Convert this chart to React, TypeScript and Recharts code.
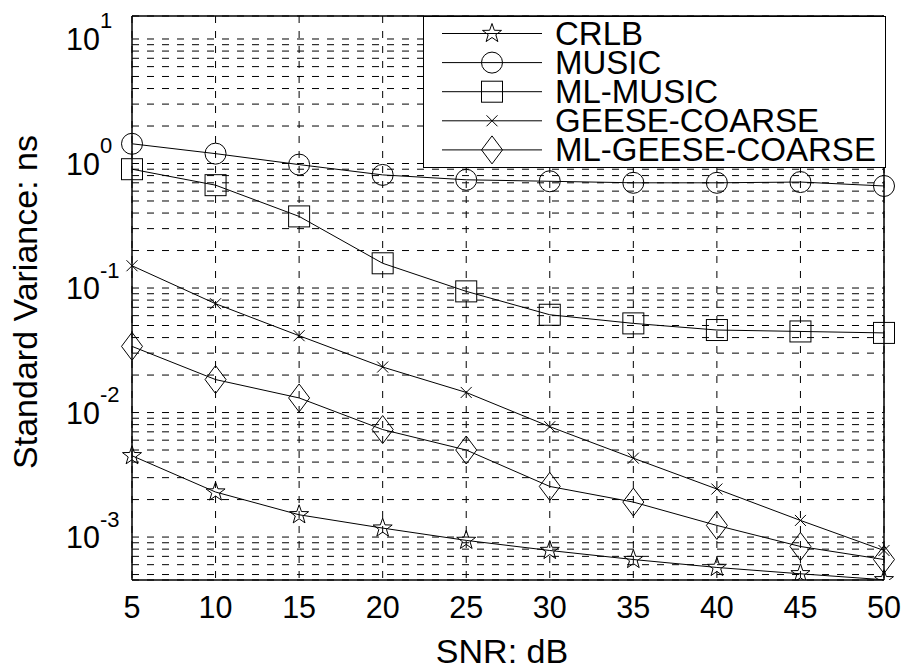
import { LineChart, Line, XAxis, YAxis, CartesianGrid } from "recharts"

// SNR in dB
const snr = [5, 10, 15, 20, 25, 30, 35, 40, 45, 50]

// standard variance (ns)
const crlb = [0.0045, 0.0023, 0.00151, 0.00118, 0.00094, 0.00078, 0.00066, 0.00057, 0.000507, 0.000454]
const music = [1.44, 1.2, 0.98, 0.81, 0.74, 0.72, 0.7, 0.7, 0.71, 0.66]
const mlMusic = [0.9, 0.67, 0.376, 0.158, 0.094, 0.061, 0.052, 0.046, 0.0448, 0.0436]
const geeseCoarse = [0.151, 0.0748, 0.0414, 0.0232, 0.0145, 0.0077, 0.0043, 0.00243, 0.00136, 0.00078]
const mlGeeseCoarse = [0.034, 0.0184, 0.0131, 0.0073, 0.005, 0.00255, 0.00191, 0.00124, 0.00084, 0.00066]

const xTicks = [5, 10, 15, 20, 25, 30, 35, 40, 45, 50]
const majorTicks = [0.001, 0.01, 0.1, 1, 10]
const minorSteps = [2, 3, 4, 5, 6, 7, 8, 9]
const yDomain = [4.52e-4, 15.3]

const series = [
  { key: "crlb", name: "CRLB", marker: "star", values: crlb },
  { key: "music", name: "MUSIC", marker: "circle", values: music },
  { key: "mlMusic", name: "ML-MUSIC", marker: "square", values: mlMusic },
  { key: "geese", name: "GEESE-COARSE", marker: "x", values: geeseCoarse },
  { key: "mlGeese", name: "ML-GEESE-COARSE", marker: "diamond", values: mlGeeseCoarse },
]

const data = snr.map((x, i) => {
  const row: Record<string, number> = { snr: x }
  series.forEach((s) => (row[s.key] = s.values[i]))
  return row
})

// every grid line of the log axis: 5e-4 .. 9e-4, then each decade
const yTicks: number[] = [5e-4, 6e-4, 7e-4, 8e-4, 9e-4]
majorTicks.forEach((m, i) => {
  yTicks.push(m)
  if (i < majorTicks.length - 1) minorSteps.forEach((k) => yTicks.push(Number((m * k).toPrecision(3))))
})

const FONT = "'Liberation Sans', Arial, sans-serif"

function Marker({ kind, cx, cy }: { kind: string; cx: number; cy: number }) {
  const common = { fill: "none", stroke: "#000", strokeWidth: 1 }
  if (kind === "circle") return <circle cx={cx} cy={cy} r={10.5} {...common} />
  if (kind === "square") return <rect x={cx - 10.5} y={cy - 10.5} width={21} height={21} {...common} />
  if (kind === "diamond")
    return <polygon points={`${cx},${cy - 14} ${cx + 10.5},${cy} ${cx},${cy + 14} ${cx - 10.5},${cy}`} {...common} />
  if (kind === "x")
    return (
      <g {...common}>
        <line x1={cx - 5.5} y1={cy - 5.5} x2={cx + 5.5} y2={cy + 5.5} />
        <line x1={cx - 5.5} y1={cy + 5.5} x2={cx + 5.5} y2={cy - 5.5} />
      </g>
    )
  // pentagram
  const pts: string[] = []
  for (let i = 0; i < 10; i++) {
    const r = i % 2 === 0 ? 10 : 4
    const a = -Math.PI / 2 + (i * Math.PI) / 5
    pts.push(`${cx + r * Math.cos(a)},${cy + r * Math.sin(a)}`)
  }
  return <polygon points={pts.join(" ")} {...common} />
}

const YTick = (props: any) => {
  const { x, y, payload } = props
  const v = payload.value
  if (!majorTicks.includes(v)) return <g />
  const e = Math.round(Math.log10(v))
  return (
    <g style={{ fontFamily: FONT }}>
      <text x={x - 32} y={y + 11} textAnchor="end" fontSize={30.5} fill="#000">
        10
      </text>
      <text x={x - 32} y={y - 10.5} textAnchor="start" fontSize={22} fill="#000">
        {e}
      </text>
    </g>
  )
}

const XTick = (props: any) => {
  const { x, y, payload } = props
  return (
    <text x={x} y={y + 38} textAnchor="middle" fontSize={30.5} fill="#000" style={{ fontFamily: FONT }}>
      {payload.value}
    </text>
  )
}

function LegendBox() {
  return (
    <div
      style={{
        position: "absolute",
        left: 423,
        top: 16,
        width: 463,
        height: 152,
        border: "1.5px solid #000",
        background: "#fff",
        boxSizing: "border-box",
      }}
    >
      <svg width={463} height={152} style={{ position: "absolute", left: -1.5, top: -1.5 }}>
        {series.map((s, i) => {
          const cy = 17.5 + 29.1 * i
          return (
            <g key={s.key}>
              <line x1={19} x2={119} y1={cy} y2={cy} stroke="#000" strokeWidth={1} />
              <Marker kind={s.marker} cx={69} cy={cy} />
              <text x={132} y={cy + 11} fontSize={33} fill="#000" style={{ fontFamily: FONT }}>
                {s.name}
              </text>
            </g>
          )
        })}
      </svg>
    </div>
  )
}

export default function App() {
  return (
    <div style={{ position: "absolute", left: 0, top: 0, width: 904, height: 669, background: "#fff" }}>
      <LineChart width={904} height={669} data={data} margin={{ top: 15, right: 19, left: 32, bottom: 29 }}>
        <CartesianGrid stroke="#000" strokeWidth={1} strokeDasharray="7 8" />
        <XAxis
          dataKey="snr"
          type="number"
          domain={[5, 50]}
          ticks={xTicks}
          height={60}
          tickSize={0}
          tickMargin={0}
          tickLine={false}
          axisLine={{ stroke: "#000", strokeWidth: 1.5 }}
          tick={XTick}
          interval={0}
          label={(p: any) => {
            const vb = p.viewBox
            return (
              <text x={vb.x + vb.width / 2 - 6} y={vb.y + 83} textAnchor="middle" fontSize={34} fill="#000" style={{ fontFamily: FONT }}>
                SNR: dB
              </text>
            )
          }}
        />
        <XAxis xAxisId="t" orientation="top" type="number" domain={[5, 50]} height={1} tick={false} tickLine={false} axisLine={{ stroke: "#000", strokeWidth: 1.5 }} />
        <YAxis
          type="number"
          scale="log"
          domain={yDomain}
          allowDataOverflow
          ticks={yTicks}
          interval={0}
          width={100}
          tickSize={0}
          tickMargin={0}
          tickLine={false}
          axisLine={{ stroke: "#000", strokeWidth: 1.5 }}
          tick={YTick}
          label={(p: any) => {
            const vb = p.viewBox
            const cx = vb.x - 7.5
            const cy = vb.y + vb.height / 2 + 4
            return (
              <text x={cx} y={cy} transform={`rotate(-90 ${cx} ${cy})`} textAnchor="middle" dominantBaseline="central" fontSize={34} fill="#000" style={{ fontFamily: FONT }}>
                Standard Variance: ns
              </text>
            )
          }}
        />
        <YAxis yAxisId="r" orientation="right" type="number" scale="log" domain={yDomain} allowDataOverflow width={1} tick={false} tickLine={false} axisLine={{ stroke: "#000", strokeWidth: 1.5 }} />
        {series.map((s) => (
          <Line
            key={s.key}
            dataKey={s.key}
            name={s.name}
            stroke="#000"
            strokeWidth={1}
            isAnimationActive={false}
            dot={(p: any) => <Marker key={`${s.key}-${p.index}`} kind={s.marker} cx={p.cx} cy={p.cy} />}
            activeDot={false}
          />
        ))}
      </LineChart>
      <LegendBox />
    </div>
  )
}
